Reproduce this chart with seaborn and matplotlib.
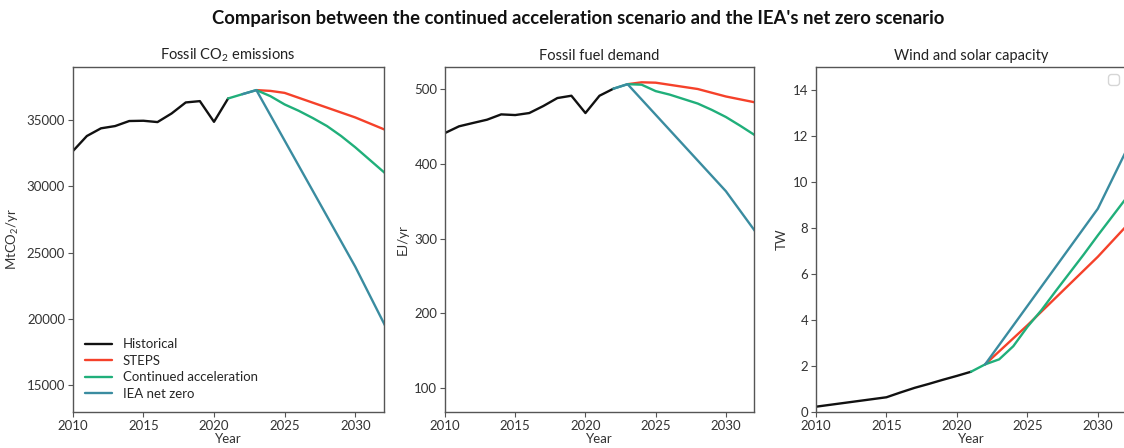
import matplotlib
matplotlib.use("Agg")
import matplotlib.pyplot as plt
import seaborn as sns
import numpy as np

# ---------------- data ----------------
hist_years = [2010, 2011, 2012, 2013, 2014, 2015, 2016, 2017, 2018, 2019, 2020, 2021]
co2_hist = [32650, 33800, 34380, 34550, 34930, 34950, 34850, 35500, 36330, 36430, 34870, 36630]
co2_steps_years = [2023, 2024, 2025, 2030, 2035]
co2_steps = [37260, 37200, 37050, 35200, 33000]
co2_ca_years = [2021, 2022, 2023, 2024, 2025, 2026, 2027, 2028, 2029, 2030, 2035]
co2_ca = [36630, 36950, 37260, 36800, 36180, 35700, 35150, 34550, 33800, 32950, 28330]
co2_nz_years = [2022, 2023, 2030, 2035]
co2_nz = [36950, 37260, 23950, 13430]

fuel_hist_years = [2010, 2011, 2012, 2013, 2014, 2015, 2016, 2017, 2018, 2019, 2020, 2021, 2022]
fuel_hist = [441.5, 450.5, 455, 459.4, 466.5, 465.6, 468.3, 477.7, 488.4, 491.5, 468.3, 491.5, 501]
fuel_steps_years = [2023, 2024, 2025, 2028, 2030, 2035]
fuel_steps = [507, 509.5, 509, 500.5, 490.5, 471.5]
fuel_ca_years = [2022, 2023, 2024, 2025, 2026, 2027, 2028, 2029, 2030, 2031, 2032, 2035]
fuel_ca = [501, 507, 506.3, 497.7, 493, 487, 481, 472.5, 463, 451.5, 439.4, 400]
fuel_nz_years = [2022, 2023, 2030, 2035]
fuel_nz = [501, 507, 363.5, 234.5]

ws_hist_years = [2010, 2015, 2016, 2017, 2018, 2019, 2020, 2021]
ws_hist = [0.23, 0.64, 0.85, 1.05, 1.22, 1.40, 1.57, 1.75]
ws_steps_years = [2022, 2025, 2030, 2035]
ws_steps = [2.07, 3.77, 6.75, 10.05]
ws_ca_years = [2021, 2022, 2023, 2024, 2025, 2026, 2027, 2028, 2029, 2030, 2035]
ws_ca = [1.75, 2.07, 2.29, 2.86, 3.70, 4.43, 5.25, 6.05, 6.85, 7.68, 11.7]
ws_nz_years = [2022, 2030, 2035]
ws_nz = [2.07, 8.84, 15.1]

labels = ["Historical", "STEPS", "Continued acceleration", "IEA net zero"]
colors = ["#111111", "#F5412A", "#20AF7A", "#3A8CA0"]

# ---------------- style ----------------
sns.set_style("ticks")
plt.rcParams["font.family"] = ["Lato", "DejaVu Sans"]
plt.rcParams["mathtext.fontset"] = "custom"
plt.rcParams["mathtext.rm"] = "Lato"
plt.rcParams["mathtext.it"] = "Lato"
plt.rcParams["mathtext.default"] = "regular"
plt.rcParams["axes.edgecolor"] = "#555555"
plt.rcParams["xtick.color"] = "#555555"
plt.rcParams["ytick.color"] = "#555555"
plt.rcParams["xtick.labelcolor"] = "#333333"
plt.rcParams["ytick.labelcolor"] = "#333333"
plt.rcParams["axes.labelcolor"] = "#333333"

fig = plt.figure(figsize=(11.24, 4.48), dpi=100)
h = 0.770
ax1 = fig.add_axes([0.0647, 0.0804, 0.2765, h])
ax2 = fig.add_axes([0.3959, 0.0804, 0.2749, h])
ax3 = fig.add_axes([0.7260, 0.0804, 0.2758, h])

panels = [
    (ax1, [(hist_years, co2_hist), (co2_steps_years, co2_steps), (co2_ca_years, co2_ca), (co2_nz_years, co2_nz)],
     "Fossil CO$_2$ emissions", "MtCO$_2$/yr", (13000, 39000)),
    (ax2, [(fuel_hist_years, fuel_hist), (fuel_steps_years, fuel_steps), (fuel_ca_years, fuel_ca), (fuel_nz_years, fuel_nz)],
     "Fossil fuel demand", "EJ/yr", (67.5, 530)),
    (ax3, [(ws_hist_years, ws_hist), (ws_steps_years, ws_steps), (ws_ca_years, ws_ca), (ws_nz_years, ws_nz)],
     "Wind and solar capacity", "TW", (0, 15)),
]

for i, (ax, series, title, ylabel, ylim) in enumerate(panels):
    for (xs, ys), lab, col in zip(series, labels, colors):
        sns.lineplot(x=xs, y=ys, ax=ax, color=col, linewidth=1.7,
                     label=lab if i == 0 else None, legend=False)
    ax.set_xlim(2010, 2032)
    ax.set_ylim(*ylim)
    ax.set_xticks([2010, 2015, 2020, 2025, 2030])
    ax.set_title(title, fontsize=10.5, color="#222222", pad=5)
    ax.set_xlabel("Year", fontsize=9.5, labelpad=1)
    ax.set_ylabel(ylabel, fontsize=9.5)
    ax.tick_params(labelsize=9.5, length=3.5, width=0.8, pad=2)
    for s in ax.spines.values():
        s.set_linewidth(1.0)

ax1.legend(loc="lower left", frameon=False, fontsize=9.5, handlelength=2.1,
           handletextpad=0.8, borderaxespad=0.5, labelspacing=0.35)
ax3.legend(handles=[], loc="upper right")

fig.suptitle("Comparison between the continued acceleration scenario and the IEA's net zero scenario",
             x=0.514, y=0.977, fontsize=13.3, fontweight="bold", color="#111111")

fig.savefig("out.png", dpi=100)
